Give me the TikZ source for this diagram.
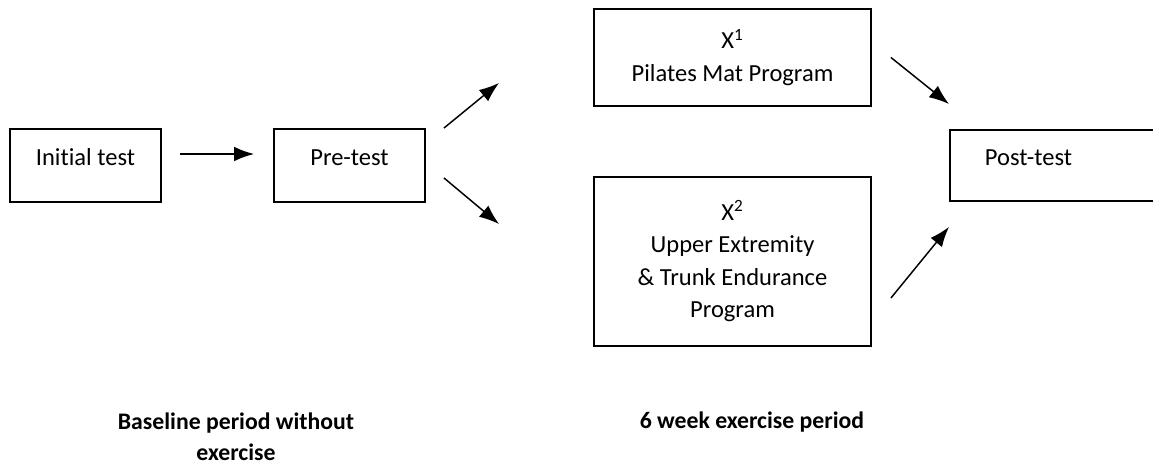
\documentclass[tikz,border=0pt]{standalone}
\usepackage{fontspec}
\setmainfont{Carlito}[Ligatures=NoCommon]
\usepackage{tikz}
\usetikzlibrary{arrows.meta,calc}

\begin{document}
\begin{tikzpicture}[
    x=0.75pt,y=-0.75pt,
    box/.style={draw,black,line width=1.4pt,rectangle,inner sep=0pt,align=center,
      font=\fontsize{18.4}{24.4}\selectfont},
    onebox/.style={box,text height=10pt,text depth=10pt},
    arr/.style={line width=1.1pt,-{Latex[length=15pt,width=11pt]}},
    period/.style={align=center,font=\fontsize{17.8}{23.2}\selectfont\bfseries}
    ]
    \clip (0, 0) rectangle (1153, 467);
    \node[onebox,minimum width=151*0.75pt,minimum height=73*0.75pt] (init) at (85.5, 165.5) {Initial test};
    \node[onebox,minimum width=151*0.75pt,minimum height=73*0.75pt] (pre) at (349.5, 165.5) {Pre-test};
    \node[box,minimum width=277*0.75pt,minimum height=97*0.75pt] (pilates) at (732.5, 57.5)
      {X\textsuperscript{1}\\Pilates Mat Program};
    \node[box,minimum width=277*0.75pt,minimum height=169*0.75pt] (upper) at (732.5, 261.5)
      {X\textsuperscript{2}\\Upper Extremity\\\& Trunk Endurance\\Program};
    \node[onebox,anchor=west,align=left,text width=150*0.75pt,inner xsep=35*0.75pt,
      minimum height=71*0.75pt] (post) at (949, 165.5) {Post-test};
    \draw[arr] ($(init.east)+(18,-11.5)$) -- ($(pre.west)+(-19,-11.5)$);
    \draw[arr] ($(pre.north east)+(18,0)$) -- ($(pilates.south west)+(-94,-24)$);
    \draw[arr] ($(pre.south east)+(18,-25)$) -- ($(upper.north west)+(-94,48)$);
    \draw[arr] ($(pilates.east)+(19,0)$) -- ($(post.north west)+(0,-25)$);
    \draw[arr] ($(upper.east)+(19,36.5)$) -- ($(post.south west)+(0,25)$);
    \node[period] (base) at (236, 437) {Baseline period without\\exercise};
    \node[period] (six) at (752, 422) {6 week exercise period};
\end{tikzpicture}
\end{document}
